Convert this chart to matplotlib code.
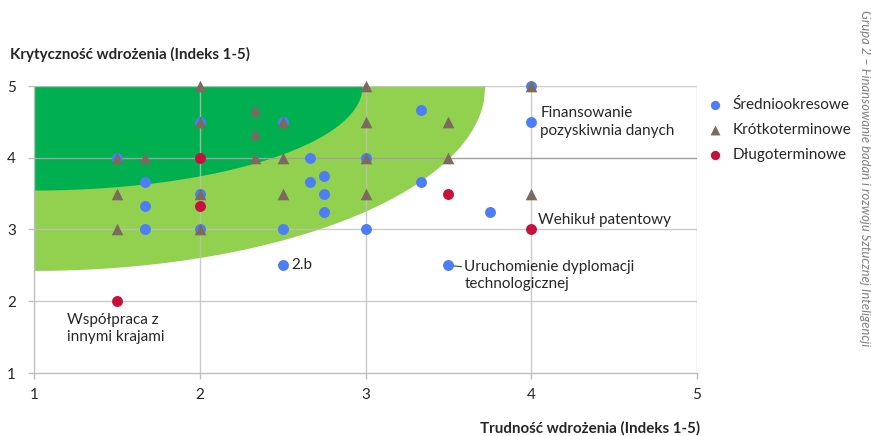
import numpy as np
import matplotlib
matplotlib.use("Agg")
import matplotlib.pyplot as plt

plt.rcParams['font.family'] = ['Lato', 'DejaVu Sans']

# ---- data ----
series_names = ["Średniookresowe", "Krótkoterminowe", "Długoterminowe"]

sred_x = [1.5, 1.667, 1.667, 1.667, 2, 2, 2, 2.5, 2.5, 2.5, 2.667, 2.667,
          2.75, 2.75, 2.75, 3, 3, 3.333, 3.333, 3.75, 4, 4, 3.5]
sred_y = [4, 3.667, 3.333, 3, 4.5, 3.5, 3, 4.5, 3, 2.5, 4, 3.667,
          3.75, 3.5, 3.25, 4, 3, 4.667, 3.667, 3.25, 5, 4.5, 2.5]

krot_x = [2, 2.333, 2, 2.5, 2.333, 1.5, 1.667, 2.333, 2.5, 3, 3, 3,
          1.5, 2, 2.5, 3, 1.5, 2, 3.5, 3.5, 4, 4]
krot_y = [5, 4.667, 4.5, 4.5, 4.333, 4, 4, 4, 4, 5, 4.5, 4,
          3.5, 3.5, 3.5, 3.5, 3, 3, 4.5, 4, 3.5, 5]

dlugo_x = [2, 2, 1.5, 3.5, 4]
dlugo_y = [4, 3.333, 2, 3.5, 3]

ticks = [1, 2, 3, 4, 5]

ann_texts = ["Finansowanie\npozyskiwnia danych", "Wehikuł patentowy",
             "Uruchomienie dyplomacji\ntechnologicznej", "2.b",
             "Współpraca z\ninnymi krajami"]
ann_points = [(4, 4.5), (4, 3), (3.5, 2.5), (2.5, 2.5), (1.5, 2)]

xlabel = "Trudność wdrożenia (Indeks 1-5)"
ylabel = "Krytyczność wdrożenia (Indeks 1-5)"
side_text = "Grupa 2 – Finansowanie badań i rozwoju Sztucznej Inteligencji"

# ---- figure ----
fig = plt.figure(figsize=(8.71, 4.36), dpi=100)
ax = fig.add_axes([34/871, 1-373/436, (697-34)/871, (373-86)/436])
ax.set_xlim(1, 5)
ax.set_ylim(1, 5)

# zones (quarter ellipses from top-left corner)
def zone(a, b, color):
    xs = np.linspace(1, 1 + a, 300)
    ys = 5 - b * np.sqrt(np.clip(1 - ((xs - 1) / a) ** 2, 0, 1))
    ax.fill_between(xs, ys, 5, color=color, lw=0, zorder=0)

zone(2.72, 2.57, "#92D050")
zone(1.98, 1.45, "#00B050")

# grid
for v in [2, 3, 4, 5]:
    ax.axvline(v, color="#bfbfbf", lw=1, alpha=0.8, zorder=1)
for v in [2, 3, 5]:
    ax.axhline(v, color="#bfbfbf", lw=1, alpha=0.8, zorder=1)
ax.axhline(4, color="#a0a0a0", lw=1, zorder=1)

for s in ["top", "right"]:
    ax.spines[s].set_visible(False)
for s in ["left", "bottom"]:
    ax.spines[s].set_color("#bfbfbf")
    ax.spines[s].set_linewidth(1)

ax.set_xticks(ticks)
ax.set_yticks(ticks)
ax.tick_params(axis="both", length=4, width=1, color="#bfbfbf",
               labelsize=11, labelcolor="#262626", pad=7)
ax.tick_params(axis="y", pad=9)

# points
ax.scatter(sred_x, sred_y, s=62, marker="o", color="#4D7EF7", lw=0,
           zorder=3, label=series_names[0], clip_on=False)
ax.scatter(krot_x, krot_y, s=70, marker="^", color="#7B6A5E", lw=0,
           zorder=4, label=series_names[1], clip_on=False)
ax.scatter(dlugo_x, dlugo_y, s=62, marker="o", color="#C8103C", lw=0,
           zorder=5, label=series_names[2], clip_on=False)

# annotations
tkw = dict(fontsize=11, color="#262626", zorder=6, linespacing=1.3)
ax.annotate(ann_texts[0], ann_points[0], xytext=(9, 0),
            textcoords="offset pixels", ha="left", va="center", **tkw)
ax.annotate(ann_texts[1], ann_points[1], xytext=(7, 10),
            textcoords="offset pixels", ha="left", va="center", **tkw)
ax.annotate(ann_texts[2], ann_points[2], xytext=(16, -10),
            textcoords="offset pixels", ha="left", va="center",
            arrowprops=dict(arrowstyle="-", color="#404040", lw=0.8,
                            shrinkA=0, shrinkB=4), **tkw)
ax.annotate(ann_texts[3], ann_points[3], xytext=(9, 0),
            textcoords="offset pixels", ha="left", va="center", **tkw)
ax.annotate(ann_texts[4], ann_points[4], xytext=(-50, -27),
            textcoords="offset pixels", ha="left", va="center", **tkw)

# legend
leg = fig.legend(loc="upper left", bbox_to_anchor=(700/871, 1-92/436),
                 frameon=False, fontsize=11, handletextpad=0.55,
                 labelspacing=0.72, borderaxespad=0, handlelength=1.2,
                 markerscale=0.85)
for t in leg.get_texts():
    t.set_color("#262626")

# axis titles
fig.text(10/871, 1-54/436, ylabel, fontsize=10.9, fontweight="bold",
         color="#262626", ha="left", va="center")
fig.text(700/871, 1-428/436, xlabel, fontsize=10.9, fontweight="bold",
         color="#262626", ha="right", va="center")
fig.text(865/871, 1-10/436, side_text, fontsize=9.4, style="italic",
         color="#808080", rotation=-90, ha="center", va="top")

fig.savefig("out.png", dpi=100)
